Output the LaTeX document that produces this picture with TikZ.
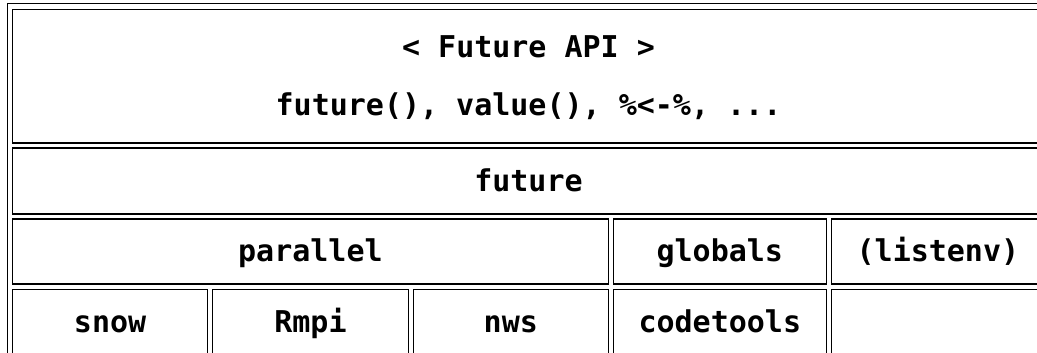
\documentclass[tikz,border=0pt]{standalone}
\usepackage{fontspec}
\newfontfamily\cellfont{DejaVu Sans Mono}
\begin{document}
\begin{tikzpicture}[x=1pt,y=-1pt,
  frame/.style={draw=black, line width=1.3pt, rectangle, inner sep=0pt, outer sep=0pt},
  cell/.style={frame, font=\cellfont\bfseries\fontsize{30pt}{36pt}\selectfont,
    text height=20.8pt, text depth=0pt},
  lbl/.style={inner sep=0pt, anchor=base, font=\cellfont\bfseries\fontsize{30pt}{36pt}\selectfont}]
\useasboundingbox (0,0) rectangle (1037,353);
\clip (0,0) rectangle (1037,353);
% outer table border
\node[frame, minimum width=1042pt, minimum height=360pt] (table) at (528.5,183.8) {};
% row 1
\node[frame, minimum width=1032pt, minimum height=133.2pt] (api) at (528.5,76.4) {};
\node[lbl] (apititle) at (528.5,57.8) {< Future API >};
\node[lbl] (apifuns) at (528.5,115.8) {future(), value(), \%<-\%, ...};
% row 2
\node[cell, minimum width=1032pt, minimum height=66pt] (future) at (528.5,181) {future};
% row 3
\node[cell, minimum width=595.8pt, minimum height=65pt] (parallel) at (310.4,251.5) {parallel};
\node[cell, minimum width=213pt, minimum height=65pt] (globals) at (719.8,251.5) {globals};
\node[cell, minimum width=213.2pt, minimum height=65pt] (listenv) at (937.9,251.5) {(listenv)};
% row 4
\node[cell, minimum width=195.2pt, minimum height=65.5pt] (snow) at (110.1,322) {snow};
\node[cell, minimum width=195.6pt, minimum height=65.5pt] (Rmpi) at (310.5,322) {Rmpi};
\node[cell, minimum width=195pt, minimum height=65.5pt] (nws) at (510.8,322) {nws};
\node[cell, minimum width=213pt, minimum height=65.5pt] (codetools) at (719.8,322) {codetools};
\node[cell, minimum width=213.2pt, minimum height=65.5pt] (empty) at (937.9,322) {};
\end{tikzpicture}
\end{document}
